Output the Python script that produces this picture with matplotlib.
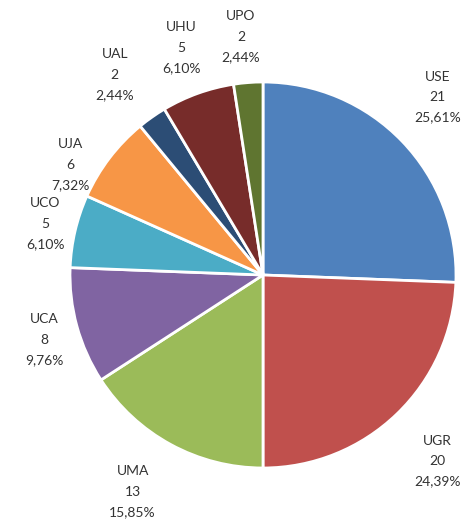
import numpy as np
import matplotlib
matplotlib.use('Agg')
import matplotlib.pyplot as plt

labels = ['USE', 'UGR', 'UMA', 'UCA', 'UCO', 'UJA', 'UAL', 'UHU', 'UPO']
counts = [21, 20, 13, 8, 5, 6, 2, 5, 2]
pcts = ['25,61%', '24,39%', '15,85%', '9,76%', '6,10%', '7,32%', '2,44%', '6,10%', '2,44%']
colors = ['#4F81BD', '#C0504D', '#9BBB59', '#8064A2', '#4BACC6',
          '#F79646', '#2C4D75', '#772C2A', '#5F7530']

# label placement: distance (in radii) and small angle nudge (deg)
label_dist = [1.29, 1.32, 1.31, 1.18, 1.16, 1.15, 1.29, 1.25, 1.24]
label_nudge = [1.7, -0.8, -2.5, 1.2, 0, 7.5, 1.4, 0, 0.9]

fig = plt.figure(figsize=(4.7, 5.24), dpi=100)
ax = fig.add_axes([0, 0, 1, 1])

wedges, _ = ax.pie(counts, colors=colors, startangle=90, counterclock=False,
                   radius=1, wedgeprops=dict(edgecolor='white', linewidth=2))

for w, lab, c, p, d, n in zip(wedges, labels, counts, pcts, label_dist, label_nudge):
    ang = np.deg2rad((w.theta1 + w.theta2) / 2 + n)
    ax.text(d * np.cos(ang), d * np.sin(ang), f'{lab}\n{c}\n{p}',
            ha='center', va='center', fontsize=10, family='Lato',
            color='#333333', linespacing=1.85)

ax.set_aspect('auto')
ax.set_xlim(-263 / 193, (470 - 263) / 193)
ax.set_ylim(-(524 - 275) / 193, 275 / 193)
ax.axis('off')

fig.savefig('out.png', dpi=100)
